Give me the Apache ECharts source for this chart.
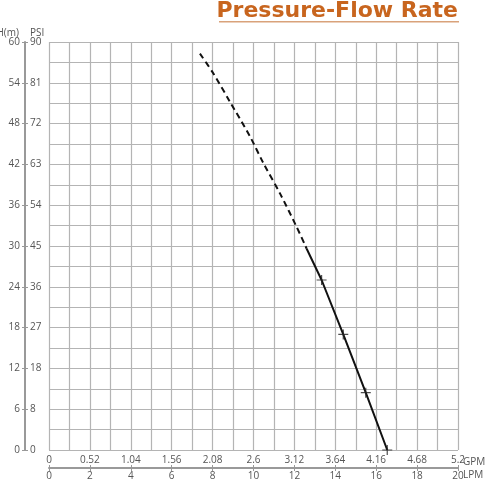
<!DOCTYPE html>
<html>
<head>
<meta charset="utf-8">
<script src="https://cdn.jsdelivr.net/npm/echarts@6/dist/echarts.min.js"></script>
<style>
  html, body { margin: 0; padding: 0; background: #fff; }
  #chart { width: 488px; height: 482px; }
</style>
</head>
<body>
<div id="chart"></div>
<script>
// flow in LPM, head in m
const dashedFlow = [7.38, 8.03, 8.85, 9.83, 10.48, 11.3, 12.11, 12.6];
const dashedHead = [58.3, 55.4, 51.2, 46.1, 42.2, 37.7, 32.8, 29.6];
const solidFlow = [12.6, 13.33, 14.39, 15.49, 16.54];
const solidHead = [29.6, 25.0, 17.0, 8.43, 0];
const pointFlow = [13.33, 14.39, 15.49, 16.54];
const pointHead = [25.0, 17.0, 8.43, 0];

const gpmLabels = ['0', '0.52', '1.04', '1.56', '2.08', '2.6', '3.12', '3.64', '4.16', '4.68', '5.2'];
const psiLabels = ['0', '8', '18', '27', '36', '45', '54', '63', '72', '81', '90'];

const chart = echarts.init(document.getElementById('chart'));

const gridColor = '#b4b4b4';
const axisColor = '#999';
const textColor = '#555';
const font = 'Open Sans';

const zip = (xs, ys) => xs.map((x, i) => [x, ys[i]]);

// small helper for the axis unit captions
const caption = (text, x, y, align) => ({
	type: 'text',
	x: x,
	y: y,
	style: {
		text: text,
		fill: textColor,
		font: '10px "Open Sans"',
		textAlign: align,
		textVerticalAlign: 'middle'
	}
});

const option = {
	animation: false,
	title: {
		text: 'Pressure-Flow Rate',
		right: 30,
		top: 0,
		padding: 0,
		textStyle: {
			color: '#c8651e',
			fontSize: 22,
			fontWeight: 'bold',
			fontFamily: 'DejaVu Sans'
		}
	},
	graphic: [
		{
			type: 'rect',
			shape: { x: 219, y: 21, width: 240, height: 1.5 },
			style: { fill: '#d9a27a' }
		},
		caption('H(m)', 19, 33, 'right'),
		caption('PSI', 30, 33, 'left'),
		caption('GPM', 463, 462, 'left'),
		caption('LPM', 463, 475, 'left')
	],
	grid: { left: 49, right: 30, top: 42, bottom: 32 },
	xAxis: [
		{
			type: 'value',
			min: 0,
			max: 20,
			interval: 1,
			position: 'bottom',
			axisLine: { show: false, onZero: false },
			axisTick: { show: false },
			axisLabel: { show: false },
			splitLine: { show: true, lineStyle: { color: gridColor, width: 1.2 } }
		},
		{
			type: 'value',
			min: 0,
			max: 20,
			interval: 2,
			position: 'bottom',
			offset: 18,
			axisLine: { show: true, onZero: false, lineStyle: { color: axisColor, width: 2 } },
			axisTick: { show: true, inside: true, length: 3, lineStyle: { color: axisColor } },
			axisLabel: {
				inside: true,
				margin: 3,
				color: textColor,
				fontSize: 10,
				fontFamily: font,
				formatter: function (val) {
					return gpmLabels[Math.round(val / 2)];
				}
			},
			splitLine: { show: false }
		},
		{
			type: 'value',
			min: 0,
			max: 20,
			interval: 2,
			position: 'bottom',
			offset: 18,
			axisLine: { show: false, onZero: false },
			axisTick: { show: true, length: 3, lineStyle: { color: axisColor } },
			axisLabel: { margin: 3, color: textColor, fontSize: 10, fontFamily: font },
			splitLine: { show: false }
		}
	],
	yAxis: [
		{
			type: 'value',
			min: 0,
			max: 60,
			interval: 3,
			position: 'left',
			axisLine: { show: false, onZero: false },
			axisTick: { show: false },
			axisLabel: { show: false },
			splitLine: { show: true, lineStyle: { color: gridColor, width: 1.2 } }
		},
		{
			type: 'value',
			min: 0,
			max: 60,
			interval: 6,
			position: 'left',
			offset: 24,
			axisLine: { show: true, onZero: false, lineStyle: { color: axisColor, width: 2 } },
			axisTick: { show: true, length: 3, lineStyle: { color: axisColor } },
			axisLabel: { margin: 5, color: textColor, fontSize: 10, fontFamily: font },
			splitLine: { show: false }
		},
		{
			type: 'value',
			min: 0,
			max: 60,
			interval: 6,
			position: 'left',
			offset: 24,
			axisLine: { show: false, onZero: false },
			axisTick: { show: true, inside: true, length: 3, lineStyle: { color: axisColor } },
			axisLabel: {
				inside: true,
				margin: 5,
				color: textColor,
				fontSize: 10,
				fontFamily: font,
				formatter: function (val) {
					return psiLabels[Math.round(val / 6)];
				}
			},
			splitLine: { show: false }
		}
	],
	series: [
		{
			type: 'line',
			data: zip(dashedFlow, dashedHead),
			smooth: 0.3,
			showSymbol: false,
			lineStyle: { color: '#111', width: 2, type: [6, 4] }
		},
		{
			type: 'line',
			data: zip(solidFlow, solidHead),
			showSymbol: false,
			lineStyle: { color: '#111', width: 2 }
		},
		{
			type: 'scatter',
			data: zip(pointFlow, pointHead),
			symbol: 'path://M4.4,0h1.2v4.4h4.4v1.2h-4.4v4.4h-1.2v-4.4h-4.4v-1.2h4.4z',
			symbolSize: 10,
			itemStyle: { color: '#222' },
			z: 5
		}
	]
};

chart.setOption(option);
</script>
</body>
</html>
